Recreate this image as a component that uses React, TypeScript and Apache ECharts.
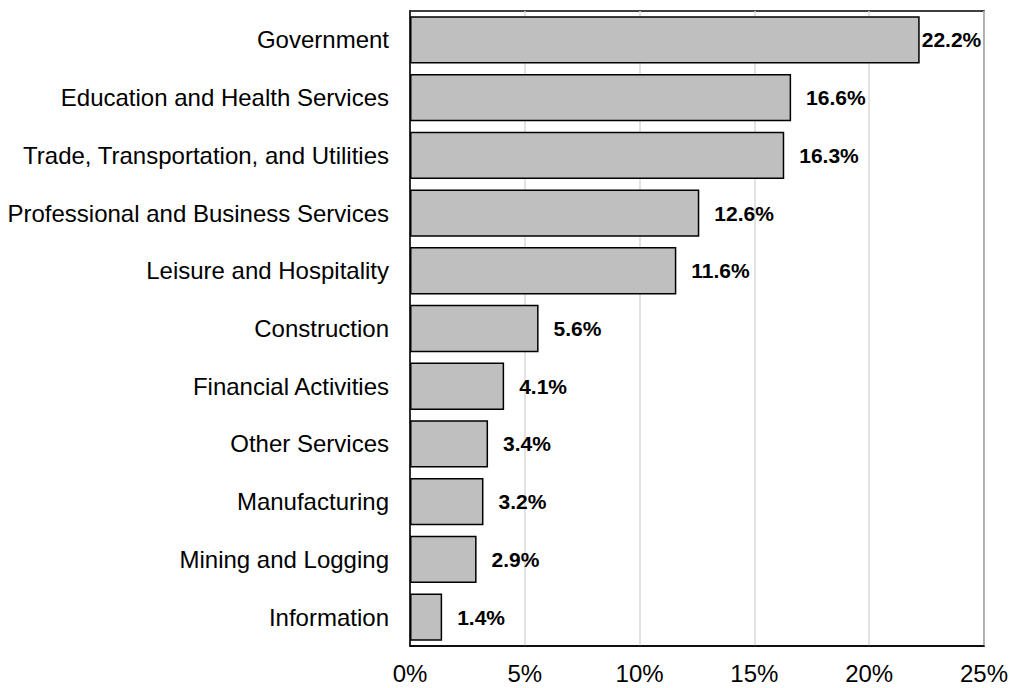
import React, { useEffect, useRef } from "react";
import * as echarts from "echarts";

const categories = [
  "Government",
  "Education and Health Services",
  "Trade, Transportation, and Utilities",
  "Professional and Business Services",
  "Leisure and Hospitality",
  "Construction",
  "Financial Activities",
  "Other Services",
  "Manufacturing",
  "Mining and Logging",
  "Information",
];
const shares = [22.2, 16.6, 16.3, 12.6, 11.6, 5.6, 4.1, 3.4, 3.2, 2.9, 1.4];
const axisMax = 25;
const axisStep = 5;

const FONT = 'Arial, "Liberation Sans", sans-serif';

export default function App() {
  const ref = useRef<HTMLDivElement>(null);
  useEffect(() => {
    if (!ref.current) return;
    const chart = echarts.init(ref.current, null, { renderer: "svg" });
    const data = shares.map((v, i) =>
      i === 0 ? { value: v, label: { distance: 2 } } : { value: v }
    );
    chart.setOption({
      animation: false,
      backgroundColor: "#fff",
      grid: {
        left: 410,
        right: 25,
        top: 11,
        bottom: 42,
        show: true,
        borderColor: "#000",
        borderWidth: 1.5,
        containLabel: false,
      },
      xAxis: {
        type: "value",
        min: 0,
        max: axisMax,
        interval: axisStep,
        axisLabel: {
          formatter: "{value}%",
          color: "#000",
          fontSize: 24,
          fontFamily: FONT,
          margin: 15,
        },
        axisLine: { show: true, lineStyle: { color: "#000", width: 1.5 } },
        axisTick: { show: false },
        splitLine: { show: true, lineStyle: { color: "#D9D9D9", width: 1.5 } },
      },
      yAxis: {
        type: "category",
        data: categories,
        inverse: true,
        axisLabel: {
          color: "#000",
          fontSize: 24,
          fontFamily: FONT,
          margin: 21,
        },
        axisLine: { show: true, lineStyle: { color: "#000", width: 1.5 } },
        axisTick: { show: false },
        splitLine: { show: false },
      },
      series: [
        {
          type: "bar",
          data,
          barCategoryGap: "18%",
          itemStyle: { color: "#BFBFBF", borderColor: "#000", borderWidth: 1.5 },
          label: {
            show: true,
            position: "right",
            distance: 15,
            formatter: (p: any) => p.value.toFixed(1) + "%",
            color: "#000",
            fontSize: 21,
            fontWeight: "bold",
            fontFamily: FONT,
          },
        },
      ],
    });
    return () => chart.dispose();
  }, []);
  return (
    <div
      ref={ref}
      style={{ position: "absolute", left: 0, top: 0, width: 1011, height: 688 }}
    />
  );
}
